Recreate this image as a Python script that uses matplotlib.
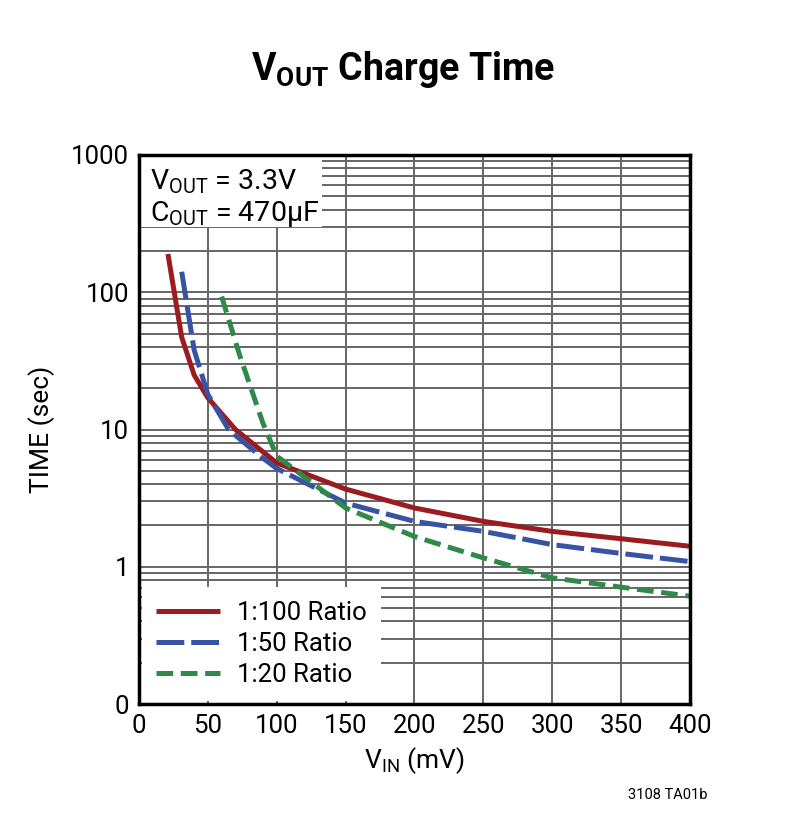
import matplotlib
matplotlib.use("Agg")
import matplotlib.pyplot as plt
from matplotlib.patches import Rectangle

# data (VIN in mV, time in sec)
vin_100 = [21, 31, 40, 50, 70, 100, 150, 200, 250, 300, 350, 400]
t_100 = [190, 47, 25, 17, 10, 5.7, 3.68, 2.68, 2.14, 1.81, 1.6, 1.41]

vin_50 = [31, 40, 50, 65, 88, 100, 150, 200, 250, 300, 350, 400]
t_50 = [141, 38, 18, 10, 6.4, 5.2, 2.91, 2.14, 1.81, 1.45, 1.25, 1.09]

vin_20 = [60, 73, 90, 100, 150, 200, 250, 300, 350, 400]
t_20 = [93, 35, 11.1, 6.4, 2.68, 1.66, 1.16, 0.83, 0.71, 0.61]

x_ticks = [0, 50, 100, 150, 200, 250, 300, 350, 400]
y_ticks = [0.1, 1, 10, 100, 1000]
y_labels = ["0", "1", "10", "100", "1000"]

plt.rcParams["font.family"] = ["Roboto", "DejaVu Sans"]
plt.rcParams["mathtext.fontset"] = "custom"
plt.rcParams["mathtext.rm"] = "Roboto"
plt.rcParams["mathtext.bf"] = "Roboto:bold"
plt.rcParams["lines.scale_dashes"] = False

fig = plt.figure(figsize=(8.12, 8.15), dpi=100)
ax = fig.add_axes([139/812, 1-704/815, 551/812, 549/815])

ax.plot(vin_100, t_100, color="#9b1c20", lw=3.6, label="1:100 Ratio", solid_capstyle="butt")
ax.plot(vin_50, t_50, color="#3953a4", lw=3.6, dashes=(20, 5), label="1:50 Ratio")
ax.plot(vin_20, t_20, color="#2f8a4a", lw=3.6, dashes=(12, 5.5), label="1:20 Ratio")

ax.set_yscale("log")
ax.set_xlim(0, 400)
ax.set_ylim(0.1, 1000)
ax.set_xticks(x_ticks)
ax.set_yticks(y_ticks)
ax.set_yticklabels(y_labels)
ax.tick_params(which="both", direction="in", labelsize=18.5, length=0, pad=7)
ax.set_axisbelow(True)
ax.grid(True, which="both", color="#666666", lw=1.4)
for s in ax.spines.values():
    s.set_linewidth(2.5)

ax.set_xlabel(r"V$_{\mathregular{IN}}$ (mV)", fontsize=19, labelpad=5)
ax.set_ylabel("TIME (sec)", fontsize=19, labelpad=12)

# white box for the conditions text
ax.add_patch(Rectangle((0, 0.869), 0.332, 0.131, transform=ax.transAxes,
                       facecolor="white", edgecolor="none", zorder=2))
ax.text(0.02, 0.952, r"V$_{\mathregular{OUT}}$ = 3.3V", transform=ax.transAxes,
        fontsize=20.5, va="center", ha="left", zorder=3)
ax.text(0.02, 0.892, r"C$_{\mathregular{OUT}}$ = 470µF", transform=ax.transAxes,
        fontsize=20.5, va="center", ha="left", zorder=3)

leg = ax.legend(loc="lower left", bbox_to_anchor=(0, 0), borderaxespad=0.1,
                fontsize=18.5, frameon=True, fancybox=False, framealpha=1,
                edgecolor="none", handlelength=2.5, handletextpad=0.65,
                labelspacing=0.28, borderpad=0.55)

fig.text(403/812, 1-70/815, r"V$_{\mathbf{OUT}}$ Charge Time", fontsize=27,
         fontweight="bold", ha="center", va="center")
fig.text(708/812, 1-795/815, "3108 TA01b", fontsize=10.5, ha="right", va="center")

fig.savefig("out.png", dpi=100)
